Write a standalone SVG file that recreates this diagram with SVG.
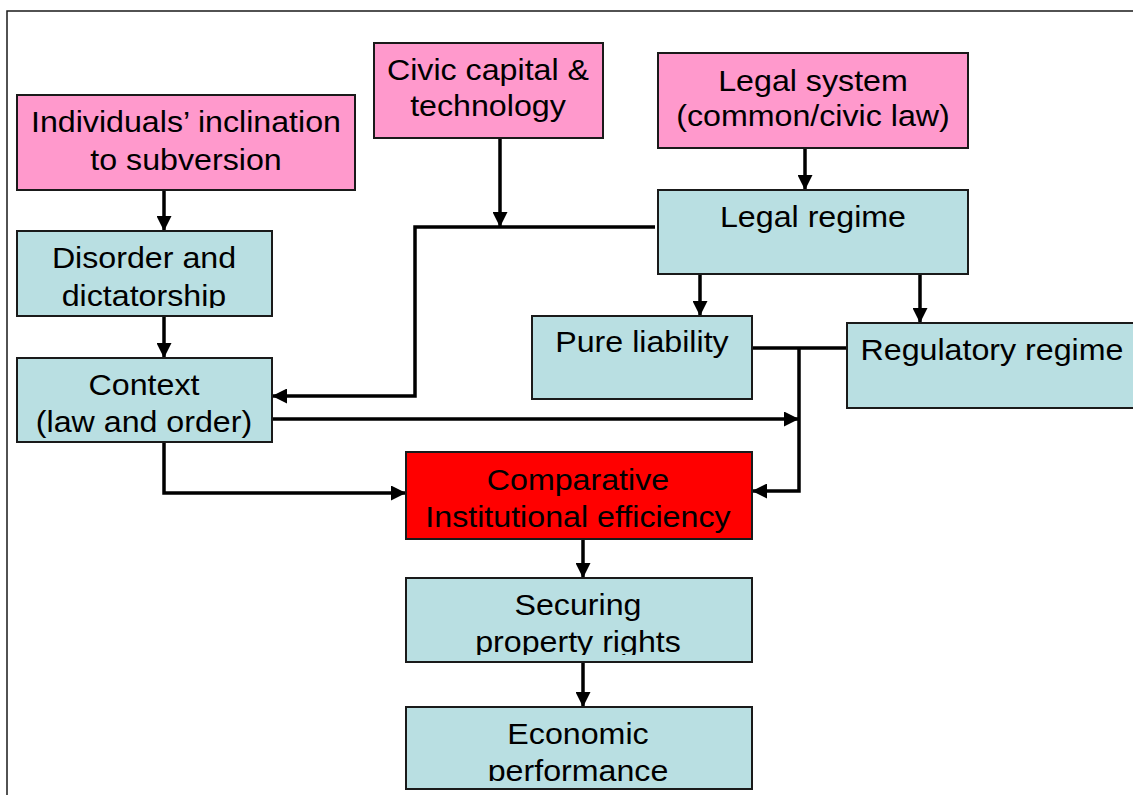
<svg xmlns="http://www.w3.org/2000/svg" width="1133" height="795" viewBox="0 0 1133 795">
<style>
.box{stroke:#1a1a1a;stroke-width:2}
.pink{fill:#FF99CC}
.blue{fill:#B9DFE2}
.red{fill:#FF0000}
text{font-family:"Liberation Sans",Arial,sans-serif;font-size:29px;fill:#000;text-anchor:middle;transform-box:fill-box;transform-origin:center;transform:scaleX(1.11)}
.ln{fill:none;stroke:#000;stroke-width:3.5}
</style>
<defs>
<marker id="ah" viewBox="0 0 14 14" refX="14" refY="7" markerWidth="15" markerHeight="15" markerUnits="userSpaceOnUse" orient="auto">
<path d="M0,0 L14,7 L0,14 Z" fill="#000"/>
</marker>
<clipPath id="c1"><rect x="17" y="231" width="255" height="77"/></clipPath>
<clipPath id="c2"><rect x="406" y="578" width="346" height="77"/></clipPath>
<clipPath id="c3"><rect x="406" y="707" width="346" height="74"/></clipPath>
</defs>
<rect width="1133" height="795" fill="#fff"/>
<rect x="7" y="11" width="1140" height="800" fill="none" stroke="#1a1a1a" stroke-width="1.5"/>

<g id="connectors">
<path class="ln" d="M164,190 V231" marker-end="url(#ah)"/>
<path class="ln" d="M164,316 V358" marker-end="url(#ah)"/>
<path class="ln" d="M500,137 V227" marker-end="url(#ah)"/>
<path class="ln" d="M655,227 H415 V396 H272" marker-end="url(#ah)"/>
<path class="ln" d="M272,419 H799" marker-end="url(#ah)"/>
<path class="ln" d="M164,442 V493 H406" marker-end="url(#ah)"/>
<path class="ln" d="M805,148 V190" marker-end="url(#ah)"/>
<path class="ln" d="M700,274 V316" marker-end="url(#ah)"/>
<path class="ln" d="M920,274 V323" marker-end="url(#ah)"/>
<path class="ln" d="M752,348 H847"/>
<path class="ln" d="M799,348 V491 H752" marker-end="url(#ah)"/>
<path class="ln" d="M583,539 V578" marker-end="url(#ah)"/>
<path class="ln" d="M583,662 V707" marker-end="url(#ah)"/>
</g>

<g id="individuals">
<rect class="box pink" x="17" y="95" width="338" height="95"/>
<text x="186" y="132">Individuals’ inclination</text>
<text x="186" y="170">to subversion</text>
</g>
<g id="civic">
<rect class="box pink" x="374" y="43" width="229" height="95"/>
<text x="488" y="80">Civic capital &amp;</text>
<text x="488" y="116">technology</text>
</g>
<g id="legal-system">
<rect class="box pink" x="658" y="53" width="310" height="95"/>
<text x="813" y="91">Legal system</text>
<text x="813" y="126">(common/civic law)</text>
</g>
<g id="disorder">
<rect class="box blue" x="17" y="231" width="255" height="85"/>
<g clip-path="url(#c1)">
<text x="144" y="268">Disorder and</text>
<text x="144" y="306">dictatorship</text>
</g>
</g>
<g id="context">
<rect class="box blue" x="17" y="358" width="255" height="84"/>
<text x="144" y="395">Context</text>
<text x="144" y="432">(law and order)</text>
</g>
<g id="legal-regime">
<rect class="box blue" x="658" y="190" width="310" height="84"/>
<text x="813" y="227">Legal regime</text>
</g>
<g id="pure-liability">
<rect class="box blue" x="532" y="316" width="220" height="83"/>
<text x="642" y="352">Pure liability</text>
</g>
<g id="regulatory">
<rect class="box blue" x="847" y="323" width="300" height="85"/>
<text x="992" y="360">Regulatory regime</text>
</g>
<g id="comparative">
<rect class="box red" x="406" y="452" width="346" height="87"/>
<text x="578" y="490">Comparative</text>
<text x="578" y="527">Institutional efficiency</text>
</g>
<g id="securing">
<rect class="box blue" x="406" y="578" width="346" height="84"/>
<g clip-path="url(#c2)">
<text x="578" y="615">Securing</text>
<text x="578" y="652">property rights</text>
</g>
</g>
<g id="economic">
<rect class="box blue" x="406" y="707" width="346" height="82"/>
<g clip-path="url(#c3)">
<text x="578" y="744">Economic</text>
<text x="578" y="781">performance</text>
</g>
</g>
</svg>
